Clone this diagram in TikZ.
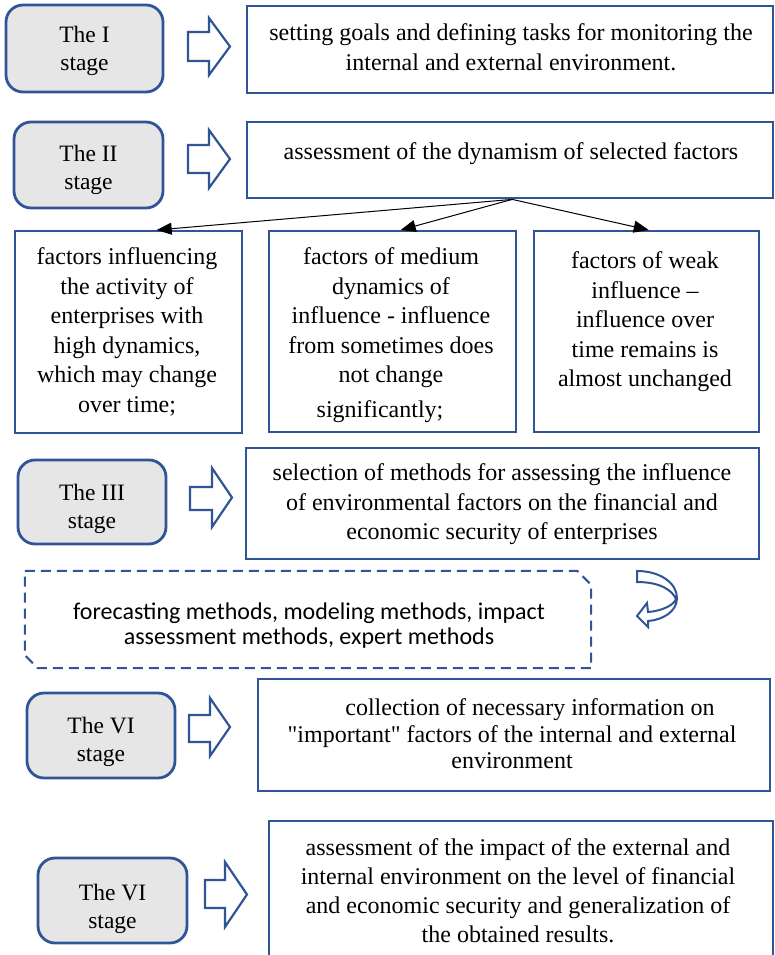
\documentclass[tikz,border=0pt]{standalone}
\usepackage{fontspec}
\setmainfont{Liberation Serif}
\newfontfamily\calibrifont{Carlito}
\newcommand\straightquote{{\addfontfeature{Ligatures=TeXOff}\char34}}
\usetikzlibrary{arrows.meta}
\definecolor{frameblue}{HTML}{2F5597}
\definecolor{stagefill}{HTML}{E7E6E6}
\tikzset{
  stagebox/.style={draw=frameblue, line width=2.8pt, fill=stagefill, rounded corners=17pt, inner sep=0},
  taskbox/.style={draw=frameblue, line width=2.4pt, inner sep=0, anchor=north west},
  stagetext/.style={font=\fontsize{23.5}{28}\selectfont, align=center, inner sep=0},
  tasktext/.style={font=\fontsize{24}{29.5}\selectfont, align=center, inner sep=0},
  flow/.style={draw=frameblue, line width=2.2pt, fill=white, line join=miter},
  link/.style={-{Triangle[length=15pt,width=12pt]}, line width=1pt},
  methodline/.style={draw=frameblue, line width=2pt, dash pattern=on 10pt off 6pt},
}
\begin{document}
\begin{tikzpicture}[x=1pt,y=-1pt]
\useasboundingbox (0,0) rectangle (774,955);
\clip (0,0) rectangle (774,955);

% stage labels
\node[stagebox, minimum width=157pt, minimum height=87pt] (s1) at (84.5,48.5) {};
\node[stagebox, minimum width=149pt, minimum height=86pt] (s2) at (88.5,165) {};
\node[stagebox, minimum width=148pt, minimum height=84pt] (s3) at (92,502) {};
\node[stagebox, minimum width=148pt, minimum height=85pt] (s4) at (101,735.5) {};
\node[stagebox, minimum width=149pt, minimum height=85pt] (s6) at (112.5,900.5) {};
\node[stagetext] (s1t) at (84.5,51) {The I\\stage};
\node[stagetext] (s2t) at (88.5,169.5) {The II\\stage};
\node[stagetext] (s3t) at (92,509) {The III\\stage};
\node[stagetext] (s4t) at (101,742) {The VI\\stage};
\node[stagetext] (s6t) at (112.5,909) {The VI\\stage};

% block arrows between stages and tasks
\draw[flow] (188,32) -- (209,32) -- (209,18) -- (230,46.5) -- (209,75) -- (209,61) -- (188,61) -- cycle;
\draw[flow] (188,145) -- (209,145) -- (209,130) -- (230,159) -- (209,188) -- (209,173) -- (188,173) -- cycle;
\draw[flow] (190,487) -- (212,487) -- (212,468) -- (232,497.5) -- (212,527) -- (212,510) -- (190,510) -- cycle;
\draw[flow] (189,715) -- (210,715) -- (210,698) -- (230,727) -- (210,756) -- (210,742) -- (189,742) -- cycle;
\draw[flow] (205,880) -- (225,880) -- (225,862) -- (247,894.5) -- (225,927) -- (225,908) -- (205,908) -- cycle;

% task boxes
\node[taskbox, minimum width=526pt, minimum height=87pt] (b1) at (246,5) {};
\node[taskbox, minimum width=526pt, minimum height=76pt] (b2) at (246,121) {};
\node[taskbox, minimum width=227pt, minimum height=202pt] (fa) at (14,230) {};
\node[taskbox, minimum width=247pt, minimum height=201pt] (fb) at (268,230) {};
\node[taskbox, minimum width=225pt, minimum height=201pt] (fc) at (533,230) {};
\node[taskbox, minimum width=513pt, minimum height=111pt] (b3) at (245,447) {};
\node[taskbox, minimum width=512pt, minimum height=112pt] (b4) at (257,678) {};
\node[taskbox, minimum width=504pt, minimum height=160pt] (b6) at (268,820) {};

\node[tasktext] (b1t) at (511,47) {setting goals and defining tasks for monitoring the\\internal and external environment.};
\node[tasktext] (b2t) at (511,154) {assessment of the dynamism of selected factors};
\node[tasktext] (fat) at (127,332) {factors influencing\\the activity of\\enterprises with\\high dynamics,\\which may change\\over time;};
\node[tasktext] (fbt) at (391,335) {factors of medium\\dynamics of\\influence - influence\\from sometimes does\\not change\\[5pt]significantly;\kern22pt};
\node[tasktext] (fct) at (645,322) {factors of weak\\influence --\\influence over\\time remains is\\almost unchanged};
\node[tasktext] (b3t) at (502,504.5) {selection of methods for assessing the influence\\of environmental factors on the financial and\\economic security of enterprises};
\node[tasktext, font=\fontsize{24}{26.5}\selectfont] (b4t) at (512,734) {\hspace*{36pt}collection of necessary information on\\\straightquote important\straightquote{} factors of the internal and external\\environment};
\node[tasktext, font=\fontsize{24}{29}\selectfont] (b6t) at (518,891) {assessment of the impact of the external and\\internal environment on the level of financial\\and economic security and generalization of\\the obtained results.};

% split of the second stage into factor groups
\coordinate (split) at ([xshift=2pt]b2.south);
\draw[link] (split) -- ([xshift=28pt]fa.north);
\draw[link] (split) -- ([xshift=8pt]fb.north);
\draw[link] (split) -- ([xshift=2pt]fc.north);

% methods box with two cut corners, and its turning arrow
\node[inner sep=0, minimum width=566pt, minimum height=97pt] (mb) at (308,619.5) {};
\draw[methodline] (mb.north west) -- ([xshift=-14pt]mb.north east) -- ([yshift=-14pt]mb.north east)
  -- (mb.south east) -- ([xshift=13pt]mb.south west) -- ([yshift=13pt]mb.south west) -- cycle;
\node[font=\calibrifont\fontsize{24}{25}\selectfont, align=center, inner sep=0] (mbt) at (309,626)
  {forecasting methods, modeling methods, impact\\assessment methods, expert methods};
\draw[flow, line width=2pt] (637,571) .. controls (660,571) and (677,583) .. (677,598)
  .. controls (677,612) and (662,620) .. (648,621) -- (648,627) -- (637,616) -- (647,603) -- (648,612)
  .. controls (662,611) and (674,605) .. (676,599)
  .. controls (672,590) and (660,582) .. (637,582) -- cycle;
\end{tikzpicture}
\end{document}
